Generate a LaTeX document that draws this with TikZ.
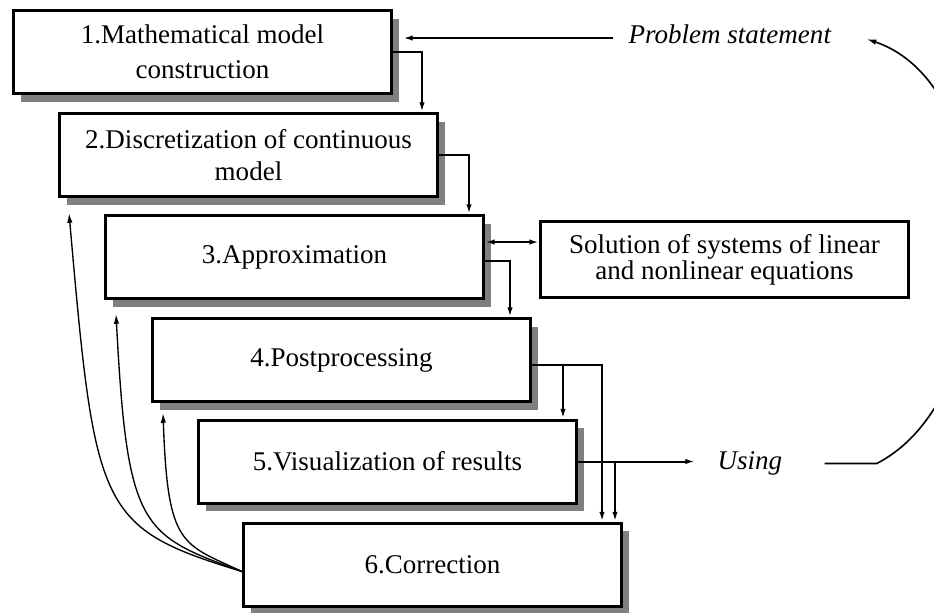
\documentclass[tikz,border=0pt]{standalone}
\usepackage{fontspec}
\setmainfont{Liberation Serif}
\usepackage{tikz}
\usetikzlibrary{arrows.meta}
\usetikzlibrary{calc}
\usetikzlibrary{shadows}

\begin{document}
\begin{tikzpicture}[x=0.013cm, y=0.013cm,
  >={Latex[length=3.6pt,width=2pt]},
  font=\fontsize{10}{12.9}\selectfont,
  stage/.style={draw, line width=1.1pt, fill=white, align=center, inner sep=0pt,
    minimum width=4.914cm, minimum height=1.079cm,
    drop shadow={shadow xshift=0.1cm, shadow yshift=-0.11cm, fill=black!50, opacity=1}},
  solver/.style={draw, line width=1.1pt, align=center, inner sep=0pt,
    minimum width=4.784cm, minimum height=0.988cm},
  note/.style={font=\fontsize{10}{12}\selectfont\itshape, inner sep=0pt},
  flow/.style={->, line width=0.75pt},
  feedback/.style={->, line width=0.5pt}]
  \useasboundingbox (0,0) rectangle (934,-612);
  % nodes %
  \node[stage] (m1) at (202.5,-52) {1.Mathematical model\\construction};
  \node[stage, font=\fontsize{10}{11.8}\selectfont] (m2) at (248.5,-155) {2.Discretization of continuous\\model};
  \node[stage] (m3) at (294.5,-257) {3.Approximation};
  \node[stage] (m4) at (341.5,-360) {4.Postprocessing};
  \node[stage] (m5) at (387.5,-461.5) {5.Visualization of results};
  \node[stage] (m6) at (432.5,-564.5) {6.Correction};
  \node[solver, font=\fontsize{10}{9.6}\selectfont] (sol) at (724.5,-259.5) {Solution of systems of linear\\and nonlinear equations};
  \node[note, anchor=base west] (prob) at (628,-43.5) {Problem statement};
  \node[note, anchor=base west] (use) at (717,-469) {Using};
  % helper points %
  \coordinate (ps) at ($(prob.base west)+(-15,5.5)$);
  \coordinate (a3) at ($(m3.east)+(0,15)$);
  \coordinate (j4) at ($(m4.east)+(0,-5)$);
  \coordinate (t5) at ($(m5.north east)+(-15,0)$);
  \coordinate (t6) at ($(m6.north east)+(-8,0)$);
  \coordinate (u1) at ($(use.east |- m5.east)+(42,-2)$);
  \coordinate (u2) at ($(u1)+(52,0)$);
  \coordinate (c1) at ($(u2)+(133,68)$);
  \coordinate (p1) at ($(prob.base east)+(35,4.5)$);
  \coordinate (c2) at ($(p1)+(143,-48)$);
  \coordinate (o6) at ($(m6.west)+(0,-7)$);
  % edges %
  \draw[flow] (ps) -- ($(ps -| m1.east)+(10,0)$);
  \draw[flow] (m1.east) -| ($(m2.north east)+(-17,0)$);
  \draw[flow] (m2.east) -| ($(m3.north east)+(-16,0)$);
  \draw[flow] ($(m3.east)+(0,-4)$) -| ($(m4.north east)+(-22,0)$);
  \draw[flow, <->] (a3) -- (a3 -| sol.west);
  \draw[flow] (j4) -| ($(m6.north east)+(-21,0)$);
  \draw[flow] (t5 |- j4) -- (t5);
  \draw[flow] (m5.east) -- ($(m5.east -| use.west)+(-22,0)$);
  \draw[flow] (t6 |- m5.east) -- (t6);
  \draw[feedback, line width=0.6pt] (u1) -- (u2) .. controls (c1) and (c2) .. (p1);
  \draw[feedback] (o6) to[out=163, in=-85, out distance=1.95cm, in distance=3.9cm] ($(m2.south west)+(11,-15)$);
  \draw[feedback] (o6) to[out=160, in=-87, out distance=1.4cm, in distance=2.8cm] ($(m3.south west)+(12,-14)$);
  \draw[feedback] (o6) to[out=155, in=-88, out distance=0.87cm, in distance=1.74cm] ($(m4.south west)+(12,-10)$);
\end{tikzpicture}
\end{document}
